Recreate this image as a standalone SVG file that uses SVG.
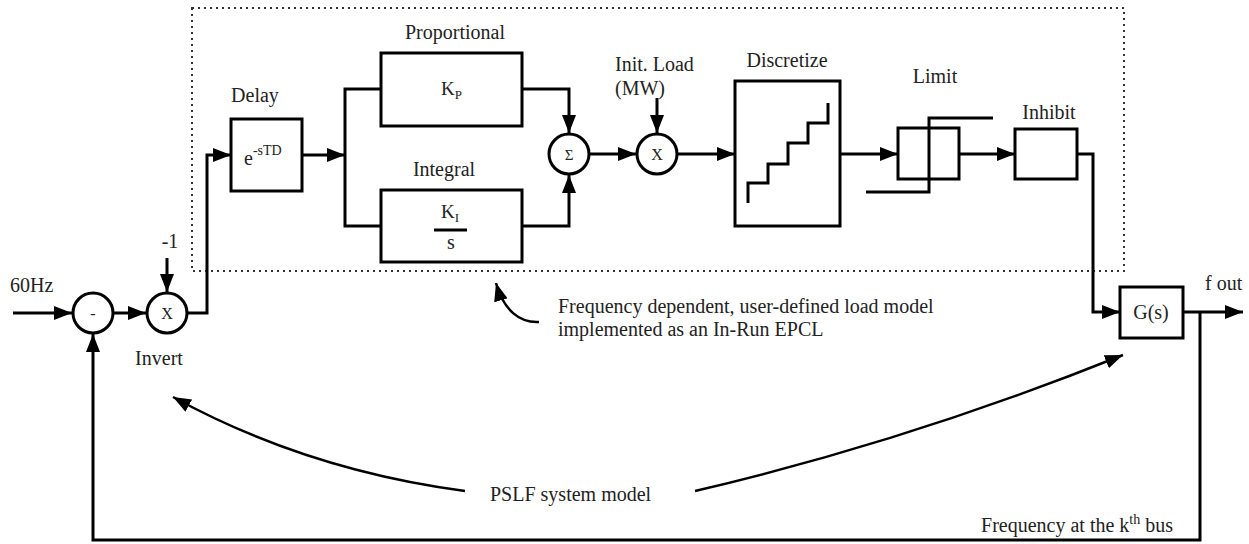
<svg xmlns="http://www.w3.org/2000/svg" width="1249" height="544" viewBox="0 0 1249 544">
<style>
text{font-family:"Liberation Serif","Times New Roman",serif;fill:#222;font-size:20px}
.c{text-anchor:middle}
.box{fill:#fff;stroke:#000;stroke-width:3}
.ln{fill:none;stroke:#000;stroke-width:3}
.arr{fill:none;stroke:#000;stroke-width:3;marker-end:url(#ah)}
.carr{fill:none;stroke:#000;stroke-width:2.5;marker-end:url(#ah)}
.dot{fill:none;stroke:#333;stroke-width:2;stroke-dasharray:2 4}
</style>
<defs>
<marker id="ah" markerUnits="userSpaceOnUse" markerWidth="18" markerHeight="14" refX="18" refY="7" orient="auto">
<path d="M0,0 L18,7 L0,14 z" fill="#000"/>
</marker>
</defs>
<rect width="1249" height="544" fill="#fff"/>
<g id="epcl-region">
<rect class="dot" x="192" y="8" width="932" height="263"/>
</g>
<g id="connectors">
<path class="arr" d="M13,313 H72"/>
<path class="arr" d="M113,313 H146"/>
<path class="arr" d="M167,258 V292"/>
<path class="arr" d="M187,313 H207 V155 H231"/>
<path class="arr" d="M302,155 H345"/>
<path class="ln" d="M381,89 H345 V226 H381"/>
<path class="arr" d="M522,89 H569 V133"/>
<path class="arr" d="M522,226 H569 V175"/>
<path class="arr" d="M589,154 H636"/>
<path class="arr" d="M657,98 V133"/>
<path class="arr" d="M677,154 H735"/>
<path class="arr" d="M840,154 H898"/>
<path class="arr" d="M959,154 H1015"/>
<path class="arr" d="M1077,154 H1093 V312 H1120"/>
<path class="arr" d="M1183,312 H1243"/>
<path class="arr" d="M1200,312 V540 H93 V334"/>
<path class="carr" d="M539,322 C520,323 504,311 496,283"/>
<path class="carr" d="M465,491 Q306,470 173,397"/>
<path class="carr" d="M695,491 Q909,441 1123,355"/>
</g>
<g id="sub-node">
<circle class="box" cx="93" cy="313" r="20"/>
<text class="c" x="93" y="319" style="font-size:16px">-</text>
</g>
<g id="invert-node">
<circle class="box" cx="167" cy="313" r="20"/>
<text class="c" x="167" y="319" style="font-size:16px">X</text>
</g>
<g id="delay-node">
<rect class="box" x="231" y="119" width="71" height="72"/>
<text x="244" y="165">e<tspan dy="-10" style="font-size:14px">-sTD</tspan></text>
</g>
<g id="prop-node">
<rect class="box" x="381" y="53" width="141" height="73"/>
<text x="441" y="95" style="font-size:19px">K<tspan dy="4" style="font-size:13px">P</tspan></text>
</g>
<g id="int-node">
<rect class="box" x="381" y="190" width="141" height="72"/>
<text x="441" y="218" style="font-size:19px">K<tspan dy="4" style="font-size:13px">I</tspan></text>
<line x1="434" y1="230" x2="467" y2="230" stroke="#000" stroke-width="3"/>
<text class="c" x="451" y="249">s</text>
</g>
<g id="sum-node">
<circle class="box" cx="569" cy="154" r="20"/>
<text class="c" x="569" y="160" style="font-size:15px">Σ</text>
</g>
<g id="mult-node">
<circle class="box" cx="657" cy="154" r="20"/>
<text class="c" x="657" y="160" style="font-size:16px">X</text>
</g>
<g id="discretize-node">
<rect class="box" x="735" y="81" width="105" height="145"/>
<path class="ln" d="M748,203 V183 H768 V164 H788 V143 H808 V123 H828 V103"/>
</g>
<g id="limit-node">
<rect class="box" x="898" y="128" width="61" height="51"/>
<path class="ln" d="M866,192 H929 V118 H993"/>
</g>
<g id="inhibit-node">
<rect class="box" x="1015" y="129" width="62" height="50"/>
</g>
<g id="gs-node">
<rect class="box" x="1120" y="287" width="63" height="51"/>
<text class="c" x="1151" y="319">G(s)</text>
</g>
<g id="labels">
<text x="10" y="292">60Hz</text>
<text class="c" x="170" y="248">-1</text>
<text class="c" x="159" y="365">Invert</text>
<text class="c" x="255" y="102">Delay</text>
<text class="c" x="455" y="39">Proportional</text>
<text class="c" x="444" y="176">Integral</text>
<text x="615" y="71">Init. Load</text>
<text x="615" y="95">(MW)</text>
<text class="c" x="787" y="67">Discretize</text>
<text class="c" x="935" y="83">Limit</text>
<text class="c" x="1049" y="119">Inhibit</text>
<text x="1205" y="290">f out</text>
<text x="558" y="313">Frequency dependent, user-defined load model</text>
<text x="558" y="336">implemented as an In-Run EPCL</text>
<text x="490" y="501">PSLF system model</text>
<text x="1173" y="532" style="text-anchor:end">Frequency at the k<tspan dy="-8" style="font-size:14px">th</tspan><tspan dy="8"> bus</tspan></text>
</g>
</svg>
